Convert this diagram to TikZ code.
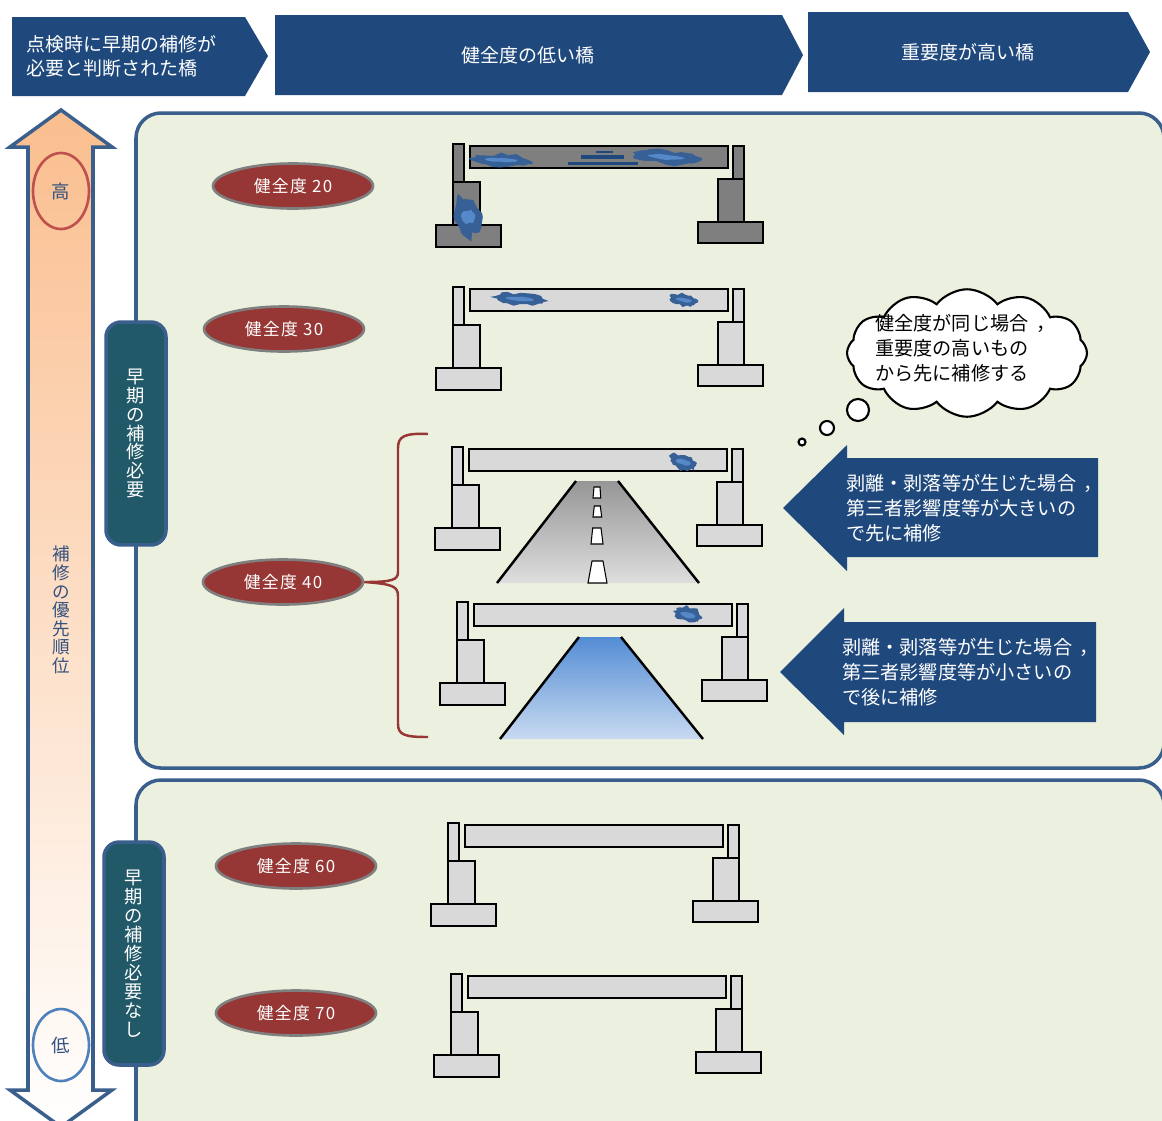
\documentclass[tikz,border=0pt]{standalone}
\usepackage{fontspec}
\setmainfont{Noto Sans CJK JP}
\newfontfamily\gradefont{Noto Sans CJK JP}[LetterSpace=8]
\newcommand{\zcomma}{\kern0.4em，}
\usepackage{tikz}
\usetikzlibrary{shapes.geometric}
\usetikzlibrary{shapes.symbols}
\definecolor{hdrblue}{RGB}{31,73,125}
\definecolor{edgeblue}{RGB}{58,95,140}
\definecolor{panelgreen}{RGB}{235,241,222}
\definecolor{tabteal}{RGB}{33,89,104}
\definecolor{gradered}{RGB}{150,55,53}
\definecolor{darkgrey}{RGB}{127,127,127}
\definecolor{lightgrey}{RGB}{217,217,217}
\definecolor{spallblue}{RGB}{84,136,200}
\definecolor{spalldark}{RGB}{55,96,150}
\definecolor{arroworange}{RGB}{250,190,142}
\definecolor{textblue}{RGB}{52,82,128}
\definecolor{highred}{RGB}{192,80,77}
\definecolor{lowblue}{RGB}{79,129,189}
\definecolor{roadtop}{RGB}{150,150,150}
\definecolor{roadbottom}{RGB}{222,222,222}
\definecolor{rivertop}{RGB}{84,141,212}
\definecolor{riverbottom}{RGB}{200,218,241}

\tikzset{
  grade/.style={ellipse, fill=gradered, draw=darkgrey, line width=1.5pt,
    minimum width=3.2cm, minimum height=0.9cm, inner sep=0pt, text=white,
    font=\gradefont\fontsize{9.6}{11}\selectfont},
  tab/.style={rectangle, rounded corners=0.3cm, fill=tabteal, draw=edgeblue,
    line width=2pt, minimum width=1.2cm, minimum height=4.46cm, text=white,
    align=center, font=\fontsize{10.4}{10.8}\selectfont},
  panel/.style={fill=panelgreen, draw=edgeblue, line width=2pt, rounded corners=0.5cm},
  hdrtext/.style={text=white, align=left, inner sep=0pt, font=\fontsize{10.8}{13.7}\selectfont},
  notetext/.style={text=white, align=left, inner sep=0pt, font=\fontsize{10.9}{14.2}\selectfont},
  pier/.style={draw=black, line width=0.8pt},
  bank/.style={draw=black, line width=1.4pt},
  brace/.style={draw=gradered, line width=1.4pt},
  bubble/.style={draw=black, line width=1.2pt, fill=white},
}

% one bridge: left parapet corner at (#1,#2), concrete colour #3
\newcommand{\drawbridge}[3]{%
  \begin{scope}[shift={(#1,#2)}]
    \draw[pier, fill=#3] (0,0) rectangle (11,38);
    \draw[pier, fill=#3] (0,38) rectangle (27,81);
    \draw[pier, fill=#3] (-17,81) rectangle (48,103);
    \draw[pier, fill=#3] (17,2) rectangle (275,24);
    \draw[pier, fill=#3] (280,2) rectangle (291,35);
    \draw[pier, fill=#3] (265,35) rectangle (291,78);
    \draw[pier, fill=#3] (245,78) rectangle (310,99);
  \end{scope}}

% spalled concrete patch: centre, radii, tilt
\newcommand{\spall}[5]{%
  \begin{scope}[shift={(#1,#2)}, rotate=#5]
    \fill[spalldark] plot[domain=0:345, samples=24]
      ({#3*(1+0.15*rand)*cos(\x)}, {#4*(1+0.3*rand)*sin(\x)}) -- cycle;
    \fill[spallblue] plot[domain=0:340, samples=12]
      ({0.55*#3*(1+0.1*rand)*cos(\x)}, {0.35*#4*(1+0.2*rand)*sin(\x)}) -- cycle;
  \end{scope}}

\begin{document}
\begin{tikzpicture}[x=0.02cm, y=-0.02cm]
  \pgfmathsetseed{7}
  \useasboundingbox (0,0) rectangle (1162,1120);
  \clip (0,0) rectangle (1162,1120);
  \fill[white] (0,0) rectangle (1162,1120);

  % header chevrons
  \fill[hdrblue] (12,17) -- (245,17) -- (268,56) -- (245,96) -- (12,96) -- cycle;
  \fill[hdrblue] (275,15) -- (782,15) -- (803,55) -- (782,95) -- (275,95) -- cycle;
  \fill[hdrblue] (808,12) -- (1128,12) -- (1150,52) -- (1128,92) -- (808,92) -- cycle;
  \node[hdrtext, anchor=west] (hdrA) at (26,56) {点検時に早期の補修が\\必要と判断された橋};
  \node[hdrtext] (hdrB) at (528,55) {健全度の低い橋};
  \node[hdrtext] (hdrC) at (968,52) {重要度が高い橋};

  % priority arrow
  \shade[top color=arroworange, bottom color=white]
    (61,110) -- (112,147) -- (93,147) -- (93,1090) -- (112,1090) -- (61,1127)
    -- (10,1090) -- (28,1090) -- (28,147) -- (10,147) -- cycle;
  \draw[edgeblue, line width=2pt]
    (61,110) -- (112,147) -- (93,147) -- (93,1090) -- (112,1090) -- (61,1127)
    -- (10,1090) -- (28,1090) -- (28,147) -- (10,147) -- cycle;
  \node[ellipse, draw=highred, line width=1.5pt, minimum width=1.12cm, minimum height=1.52cm,
    text=textblue, font=\fontsize{10.5}{11}\selectfont] (high) at (61,191) {高};
  \node[ellipse, draw=lowblue, line width=1.5pt, minimum width=1.12cm, minimum height=1.44cm,
    text=textblue, font=\fontsize{10.5}{11}\selectfont] (low) at (61,1045) {低};
  \node[align=center, text=textblue, font=\fontsize{10}{10.6}\selectfont] (prio) at (61,610)
    {補\\修\\の\\優\\先\\順\\位};

  % panels
  \draw[panel] (136,113) rectangle (1164,768);
  \draw[panel] (136,780) rectangle (1164,1150);
  \node[tab] (tabA) at (136,433.5) {早\\期\\の\\補\\修\\必\\要};
  \node[tab] (tabB) at (134,953.5) {早\\期\\の\\補\\修\\必\\要\\な\\し};

  % soundness labels
  \node[grade] (g20) at (293,186) {健全度 20};
  \node[grade] (g30) at (284,329) {健全度 30};
  \node[grade] (g40) at (283,582) {健全度 40};
  \node[grade] (g60) at (296,866) {健全度 60};
  \node[grade] (g70) at (296,1013) {健全度 70};

  % bridges
  \drawbridge{453}{144}{darkgrey}
  \fill[hdrblue] (596,151) rectangle (613,153);
  \fill[hdrblue] (581,155) rectangle (624,159);
  \fill[hdrblue] (568,162) rectangle (638,165);
  \spall{501}{160}{30}{6}{-3}
  \spall{666}{157}{33}{7}{-5}
  \spall{468}{217}{13}{20}{15}

  \drawbridge{453}{287}{lightgrey}
  \spall{520}{299}{26}{6}{-4}
  \spall{684}{300}{14}{6}{-10}

  % road under the bridge
  \shade[top color=roadtop, bottom color=roadbottom]
    (576,481) -- (618,481) -- (699,583) -- (497,583) -- cycle;
  \draw[bank] (576,481) -- (497,583);
  \draw[bank] (618,481) -- (699,583);
  \draw[fill=white, line width=0.6pt] (594,487) -- (600,487) -- (600.7,498) -- (593,498) -- cycle;
  \draw[fill=white, line width=0.6pt] (594.3,506) -- (600.3,506) -- (601.7,517) -- (593,517) -- cycle;
  \draw[fill=white, line width=0.6pt] (592.7,528) -- (601,528) -- (603,544) -- (591,544) -- cycle;
  \draw[fill=white, line width=0.6pt] (592,561) -- (603,561) -- (607,583) -- (588,583) -- cycle;
  \drawbridge{452}{447}{lightgrey}
  \spall{683}{462}{14}{8}{-15}

  % river under the bridge
  \shade[top color=rivertop, bottom color=riverbottom]
    (579,637) -- (621,637) -- (703,739) -- (500,739) -- cycle;
  \draw[bank] (579,637) -- (500,739);
  \draw[bank] (621,637) -- (703,739);
  \drawbridge{457}{602}{lightgrey}
  \spall{688}{615}{14}{8}{-15}

  \drawbridge{448}{823}{lightgrey}
  \drawbridge{451}{974}{lightgrey}

  % brace from the 40 label
  \coordinate (bracetop) at (428,434);
  \coordinate (bracebot) at (428,737);
  \draw[brace] (bracetop) .. controls (405,433) and (398,436) .. (398,448) -- (398,572)
    .. controls (398,580) and (392,582) .. (g40.east)
    .. controls (392,584) and (398,586) .. (398,596) -- (398,724)
    .. controls (398,735) and (405,737) .. (bracebot);

  % thought cloud
  \node[cloud, cloud puffs=12, cloud puff arc=105, cloud ignores aspect, bubble,
    minimum width=4.8cm, minimum height=2.55cm] (thought) at (967,353) {};
  \node[align=left, inner sep=0pt, font=\fontsize{10.9}{14.2}\selectfont, anchor=west]
    (thoughttext) at (875,348) {健全度が同じ場合\zcomma\\重要度の高いもの\\から先に補修する};
  \draw[bubble] (858,410) circle (11);
  \draw[bubble] (827,428) circle (7);
  \draw[bubble] (802,442) circle (3.5);

  % priority notes
  \fill[hdrblue] (783,508) -- (847,445) -- (847,458) -- (1098,458) -- (1098,557)
    -- (847,557) -- (847,571) -- cycle;
  \node[notetext, anchor=west] (noteA) at (846,508)
    {剥離・剥落等が生じた場合\zcomma\\第三者影響度等が大きいの\\で先に補修};
  \fill[hdrblue] (780,672) -- (844,608) -- (844,622) -- (1096,622) -- (1096,722)
    -- (844,722) -- (844,735) -- cycle;
  \node[notetext, anchor=west] (noteB) at (842,672)
    {剥離・剥落等が生じた場合\zcomma\\第三者影響度等が小さいの\\で後に補修};
\end{tikzpicture}
\end{document}
